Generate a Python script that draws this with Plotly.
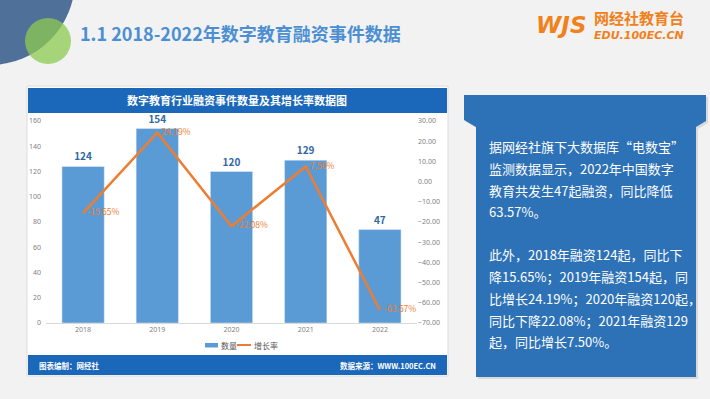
import plotly.graph_objects as go

# ---------------- data ----------------
years = ["2018", "2019", "2020", "2021", "2022"]
count_labels = [124, 154, 120, 129, 47]          # labels printed above bars
bar_heights = [124, 154, 120, 129, 74]           # bar heights as drawn in the picture
growth_pct = [-15.65, 24.19, -22.08, 7.50, -63.57]
left_ticks = [0, 20, 40, 60, 80, 100, 120, 140, 160]
right_ticks = [-70, -60, -50, -40, -30, -20, -10, 0, 10, 20, 30]
series_names = ["数量", "增长率"]

slide_title = "1.1 2018-2022年数字教育融资事件数据"
chart_title = "数字教育行业融资事件数量及其增长率数据图"
footer_left = "图表编制：网经社"
footer_right = "数据来源：WWW.100EC.CN"
panel_lines = [
    "据网经社旗下大数据库“电数宝”",
    "监测数据显示，2022年中国数字",
    "教育共发生47起融资，同比降低",
    "63.57%。",
    "此外，2018年融资124起，同比下",
    "降15.65%；2019年融资154起，同",
    "比增长24.19%；2020年融资120起，",
    "同比下降22.08%；2021年融资129",
    "起，同比增长7.50%。",
]

# ---------------- geometry helpers (pixel -> paper) ----------------
W_FIG, H_FIG = 710, 399
L, R, T, B = 46, 417, 121, 323
PW, PH = R - L, B - T


def px(x):
    return (x - L) / PW


def py(y):
    return (B - y) / PH


CJK = "Noto Sans CJK SC"
BLUE_HDR = "#1b67b9"
BAR_C = "#5b9bd5"
LINE_C = "#ED7D31"

fig = go.Figure()
fig.add_trace(go.Bar(
    x=years, y=bar_heights, name=series_names[0], marker_color=BAR_C,
    text=[f"<b>{v}</b>" for v in count_labels], textposition="outside",
    textfont=dict(family=CJK, size=10, color="#2f68a8"),
    cliponaxis=False, showlegend=False,
))
fig.add_trace(go.Scatter(
    x=years, y=growth_pct, name=series_names[1], yaxis="y2", mode="lines+text",
    line=dict(color=LINE_C, width=2.5),
    text=[f"\u2002{v:.2f}%" for v in growth_pct], textposition="middle right",
    textfont=dict(family=CJK, size=8.5, color=LINE_C),
    cliponaxis=False, showlegend=False,
))

shapes = []
# slide decorations
shapes.append(dict(type="circle", xref="paper", yref="paper",
                   x0=px(-95), x1=px(75), y0=py(65), y1=py(-105),
                   fillcolor="#4f7099", line=dict(width=0), layer="below"))
shapes.append(dict(type="circle", xref="paper", yref="paper",
                   x0=px(25), x1=px(71), y0=py(64), y1=py(18),
                   fillcolor="rgb(140,202,80)", opacity=0.75, line=dict(width=0), layer="below"))
# chart panel
shapes.append(dict(type="rect", xref="paper", yref="paper",
                   x0=px(27), x1=px(448), y0=py(376), y1=py(86),
                   fillcolor="white", line=dict(color="#dcdcdc", width=1), layer="below"))
shapes.append(dict(type="rect", xref="paper", yref="paper",
                   x0=px(28), x1=px(447), y0=py(113), y1=py(88),
                   fillcolor=BLUE_HDR, line=dict(width=0), layer="below"))
shapes.append(dict(type="rect", xref="paper", yref="paper",
                   x0=px(28), x1=px(447), y0=py(375), y1=py(355),
                   fillcolor=BLUE_HDR, line=dict(width=0), layer="below"))

# right text panel (tab shape) with soft shadow
pts = [(464, 95), (706, 95), (706, 121), (696, 127), (696, 377), (476, 377), (476, 127), (464, 120)]


def path_of(points, dx=0, dy=0):
    return "M " + " L ".join(f"{px(x + dx):.5f},{py(y + dy):.5f}" for x, y in points) + " Z"


shapes.append(dict(type="path", xref="paper", yref="paper", path=path_of(pts, 2, 2),
                   fillcolor="rgba(0,0,0,0.10)", line=dict(width=0), layer="below"))
shapes.append(dict(type="path", xref="paper", yref="paper", path=path_of(pts),
                   fillcolor="#2d71b6", line=dict(width=0), layer="below"))

# manual compact legend (swatches)
shapes.append(dict(type="rect", xref="paper", yref="paper",
                   x0=px(205), x1=px(218), y0=py(347.5), y1=py(343),
                   fillcolor=BAR_C, line=dict(width=0)))
shapes.append(dict(type="line", xref="paper", yref="paper",
                   x0=px(237), x1=px(251), y0=py(345), y1=py(345),
                   line=dict(color=LINE_C, width=2)))

ann = []
ann.append(dict(text=series_names[0], x=px(219), y=py(345), xref="paper", yref="paper",
                xanchor="left", yanchor="middle", showarrow=False,
                font=dict(family=CJK, size=8, color="#595959")))
ann.append(dict(text=series_names[1], x=px(252), y=py(345), xref="paper", yref="paper",
                xanchor="left", yanchor="middle", showarrow=False,
                font=dict(family=CJK, size=8, color="#595959")))

ann.append(dict(text=f"<b>{slide_title}</b>", x=px(78), y=py(33), xref="paper", yref="paper",
                xanchor="left", yanchor="middle", showarrow=False,
                font=dict(family=CJK, size=18, color="#4b8fd2")))
# logo
ann.append(dict(text="<b><i>WJS</i></b>", x=px(589), y=py(25), xref="paper", yref="paper",
                xanchor="right", yanchor="middle", showarrow=False,
                font=dict(family="DejaVu Sans", size=23, color="#f0821c")))
ann.append(dict(text="<b>网经社教育台</b>", x=px(593), y=py(17.5), xref="paper", yref="paper",
                xanchor="left", yanchor="middle", showarrow=False, borderpad=0,
                font=dict(family=CJK, size=15, color="#f0801a")))
ann.append(dict(text="<b><i>EDU.100EC.CN</i></b>", x=px(593), y=py(35.5), xref="paper", yref="paper",
                xanchor="left", yanchor="middle", showarrow=False, borderpad=0,
                font=dict(family="DejaVu Sans", size=11, color="#f0801a")))
# chart header / footer
ann.append(dict(text=f"<b>{chart_title}</b>", x=px(237), y=py(100.5), xref="paper", yref="paper",
                xanchor="center", yanchor="middle", showarrow=False,
                font=dict(family=CJK, size=11, color="white")))
ann.append(dict(text=f"<b>{footer_left}</b>", x=px(37), y=py(365), xref="paper", yref="paper",
                xanchor="left", yanchor="middle", showarrow=False,
                font=dict(family=CJK, size=7.5, color="white")))
ann.append(dict(text=f"<b>{footer_right}</b>", x=px(438), y=py(365), xref="paper", yref="paper",
                xanchor="right", yanchor="middle", showarrow=False,
                font=dict(family=CJK, size=7.5, color="white")))
# right panel text
line_y = [146.5, 168, 190, 211.5, 255, 276.5, 298, 320, 341.5]
for t, yy in zip(panel_lines, line_y):
    ann.append(dict(text=t, x=px(487), y=py(yy), xref="paper", yref="paper",
                    xanchor="left", yanchor="middle", showarrow=False,
                    font=dict(family=CJK, size=13, color="white")))

fig.update_layout(
    width=W_FIG, height=H_FIG,
    margin=dict(l=L, r=W_FIG - R, t=T, b=H_FIG - B, pad=0),
    paper_bgcolor="#f2f2f2", plot_bgcolor="white",
    bargap=0.43,
    showlegend=False,
    xaxis=dict(type="category", showgrid=False, showline=True, linecolor="#d9d9d9", linewidth=1,
               ticks="", tickfont=dict(family="Noto Sans", size=7, color="#7f7f7f"), fixedrange=True),
    yaxis=dict(range=[0, 160], tickvals=left_ticks, showgrid=False, zeroline=False, showline=False,
               tickfont=dict(family="Noto Sans", size=7, color="#7f7f7f"), ticks="", ticklabelstandoff=4),
    yaxis2=dict(range=[-70, 30], tickvals=right_ticks, overlaying="y", side="right", showgrid=False,
                zeroline=False, showline=False, tickformat=".2f", ticksuffix="%",
                tickfont=dict(family="Noto Sans", size=7, color="#7f7f7f"), ticks=""),
    shapes=shapes, annotations=ann,
    font=dict(family=CJK),
)

fig.write_html("out.html", config={"displayModeBar": False},
               post_script="document.body.style.margin='0';document.body.style.overflow='hidden';")
